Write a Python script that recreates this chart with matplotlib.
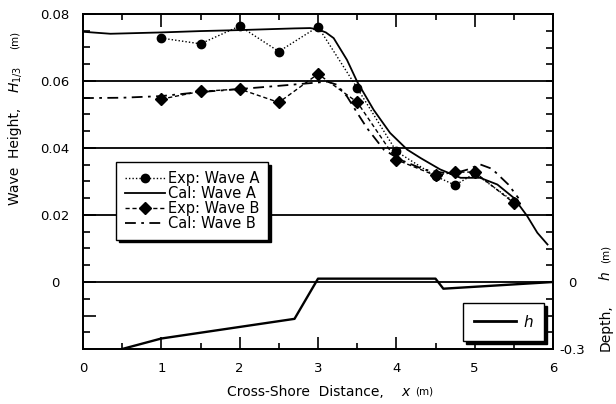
import numpy as np
import matplotlib.pyplot as plt

plt.rcParams['font.family'] = ['DejaVu Sans']
plt.rcParams['mathtext.fontset'] = 'dejavusans'

# measured wave heights (m)
x_exp = [1.0, 1.5, 2.0, 2.5, 3.0, 3.5, 4.0, 4.5, 4.75, 5.0, 5.5]
exp_a = [0.0728, 0.0711, 0.0764, 0.0688, 0.0762, 0.0579, 0.0390, 0.0316, 0.0289, 0.0324, 0.0240]
exp_b = [0.0546, 0.0569, 0.0576, 0.0536, 0.0621, 0.0537, 0.0365, 0.0318, 0.0328, 0.0328, 0.0236]

# computed wave heights (m)
x_cal_a = [0.0, 0.35, 1.0, 1.5, 2.0, 2.7, 2.9, 3.0, 3.1, 3.2, 3.37, 3.5, 3.71, 3.92,
           4.14, 4.31, 4.56, 4.82, 5.07, 5.29, 5.5, 5.67, 5.8, 5.93]
cal_a = [0.0747, 0.0741, 0.0745, 0.0749, 0.0752, 0.0757, 0.0758, 0.0754, 0.0745, 0.0728,
         0.0663, 0.0598, 0.0514, 0.0445, 0.0395, 0.0370, 0.0336, 0.0311, 0.0311, 0.0291,
         0.0251, 0.0197, 0.0147, 0.0112]
x_cal_b = [0.0, 0.5, 1.0, 1.5, 2.0, 2.52, 3.12, 3.24, 3.37, 3.5, 3.63, 3.84, 4.05, 4.35,
           4.7, 4.9, 5.07, 5.22, 5.43, 5.56]
cal_b = [0.0549, 0.0550, 0.0555, 0.0567, 0.0576, 0.0586, 0.0598, 0.0589, 0.0554, 0.0505,
         0.0458, 0.0395, 0.0365, 0.0336, 0.0322, 0.0335, 0.0351, 0.0338, 0.0291, 0.0250]

# bottom profile, depth h (m)
x_bed = [0.5, 1.0, 2.7, 3.0, 4.5, 4.6, 6.0]
h_bed = [-0.3, -0.253, -0.165, 0.015, 0.015, -0.03, 0.0]

W, H = 616, 404
fig = plt.figure(figsize=(W / 100, H / 100), dpi=100)
ax = fig.add_axes([83 / W, 1 - 349 / H, 470 / W, 335 / H])

for v in [0, 0.02, 0.04, 0.06]:
    ax.axhline(v, color='k', lw=1.3, zorder=1)

ax.plot(x_exp, exp_a, color='k', ls=(0, (1, 1.5)), lw=1, marker='o', ms=6,
        label='Exp: Wave A')
ax.plot(x_cal_a, cal_a, color='k', ls='-', lw=1.3, label='Cal: Wave A')
ax.plot(x_exp, exp_b, color='k', ls=(0, (3, 2)), lw=1, marker='D', ms=6.5,
        label='Exp: Wave B')
ax.plot(x_cal_b, cal_b, color='k', ls=(0, (6, 3, 1.5, 3)), lw=1.3, label='Cal: Wave B')

ax.set_xlim(0, 6)
ax.set_ylim(-0.02, 0.08)
ax.set_xticks(range(7))
ax.set_xticks(np.arange(0.5, 6, 1.0), minor=True)
ax.set_yticks([-0.01, 0, 0.02, 0.04, 0.06, 0.08])
ax.set_yticklabels(['', '0', '0.02', '0.04', '0.06', '0.08'])
ax.set_yticks(np.arange(-0.015, 0.08, 0.005), minor=True)
ax.tick_params(axis='x', which='both', direction='in', top=True, bottom=True,
               labelsize=9.5, pad=9)
ax.tick_params(axis='x', which='major', length=9, width=1.2)
ax.tick_params(axis='x', which='minor', length=4, width=1.2)
ax.tick_params(axis='y', which='both', direction='in', left=True, right=False,
               labelsize=9.5, pad=20)
ax.tick_params(axis='y', which='major', length=9, width=1.2)
ax.tick_params(axis='y', which='minor', length=5, width=1.2)
for lbl in ax.get_yticklabels():
    lbl.set_horizontalalignment('center')
for sp in ax.spines.values():
    sp.set_linewidth(1.3)

leg = ax.legend(loc='upper left', bbox_to_anchor=(0.07, 0.558), borderaxespad=0,
                fontsize=10.5, handlelength=2.74, handletextpad=0.2, labelspacing=0,
                borderpad=0.6, fancybox=False, edgecolor='k', framealpha=1,
                shadow={'color': 'k', 'alpha': 1})
leg.get_frame().set_linewidth(1)

# depth axis on the right
ax2 = ax.twinx()
ax2.plot(x_bed, h_bed, color='k', lw=1.7, label='$h$')
ax2.set_ylim(-0.3, 1.2)
ax2.set_yticks([-0.3, 0])
ax2.set_yticklabels(['-0.3', '0'])
ax2.set_yticks(np.arange(-0.3, 1.2, 0.075), minor=True)
ax2.tick_params(axis='y', which='both', direction='in', length=5, width=1.2,
                labelsize=9.5, pad=14)
for lbl in ax2.get_yticklabels():
    lbl.set_horizontalalignment('center')
for sp in ax2.spines.values():
    sp.set_linewidth(1.3)

leg2 = ax2.legend(loc='upper left', bbox_to_anchor=(0.808, 0.138), borderaxespad=0,
                  fontsize=11, handlelength=2.75, handletextpad=0.45, borderpad=0.72,
                  fancybox=False, edgecolor='k', framealpha=1,
                  shadow={'color': 'k', 'alpha': 1})
leg2.get_frame().set_linewidth(1)
leg2.get_lines()[0].set_linewidth(2)

# axis titles, with the unit set smaller
fig.text(227 / W, 1 - 392 / H, 'Cross-Shore  Distance,', fontsize=10,
         ha='left', va='center')
fig.text(406 / W, 1 - 392 / H, '$x$', fontsize=10, ha='center', va='center')
fig.text(415 / W, 1 - 392 / H, '(m)', fontsize=7.5, ha='left', va='center')

fig.text(15 / W, 1 - 205 / H, 'Wave  Height,', fontsize=10,
         rotation=90, ha='center', va='bottom')
fig.text(15 / W, 1 - 93 / H, '$H_{1/3}$', fontsize=10,
         rotation=90, ha='center', va='bottom')
fig.text(15 / W, 1 - 49 / H, '(m)', fontsize=7.5, rotation=90, ha='center', va='bottom')

fig.text(606 / W, 1 - 351 / H, 'Depth,', fontsize=10,
         rotation=90, ha='center', va='bottom')
fig.text(606 / W, 1 - 281 / H, '$h$', fontsize=10,
         rotation=90, ha='center', va='bottom')
fig.text(606 / W, 1 - 263 / H, '(m)', fontsize=7.5, rotation=90, ha='center', va='bottom')

fig.savefig('out.png', dpi=100)
